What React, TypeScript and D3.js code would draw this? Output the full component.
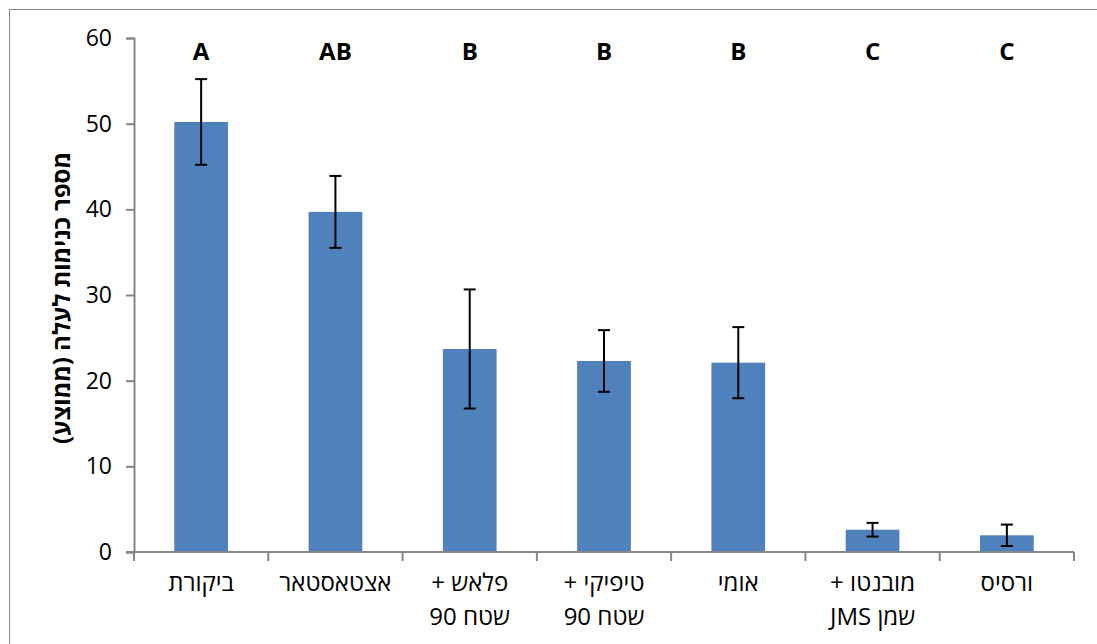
import React, { useEffect, useRef } from 'react';
import * as d3 from 'd3';

// Categories (Hebrew, each entry split into lines)
const categories: string[][] = [
  ['ביקורת'],
  ['אצטאסטאר'],
  ['פלאש +', 'שטח 90'],
  ['טיפיקי +', 'שטח 90'],
  ['אומי'],
  ['מובנטו +', 'שמן JMS'],
  ['ורסיס'],
];
const means = [50.2, 39.7, 23.7, 22.3, 22.1, 2.6, 1.95];
const errors = [5.0, 4.2, 6.95, 3.6, 4.15, 0.8, 1.25];
const groups = ['A', 'AB', 'B', 'B', 'B', 'C', 'C'];
const yTicks = [0, 10, 20, 30, 40, 50, 60];
const yTitle = 'מספר כנימות לעלה (ממוצע)';

const FONT = '"Open Sans", "Liberation Sans", "DejaVu Sans", sans-serif';

const App: React.FC = () => {
  const svgRef = useRef<SVGSVGElement | null>(null);

  useEffect(() => {
    if (!svgRef.current) return;
    const svg = d3.select(svgRef.current);
    svg.selectAll('*').remove();

    const width = 1097;
    const height = 644;
    const left = 134;
    const right = 1074;
    const top = 38;
    const bottom = 552;
    const axisColor = '#868686';

    // frame
    svg
      .append('rect')
      .attr('x', 9.5)
      .attr('y', 9.5)
      .attr('width', width)
      .attr('height', height)
      .attr('fill', 'none')
      .attr('stroke', axisColor)
      .attr('stroke-width', 1);

    const idx = categories.map((_, i) => String(i));
    const x = d3
      .scaleBand()
      .domain(idx)
      .range([left, right])
      .paddingInner(0.6)
      .paddingOuter(0.3);
    const y = d3.scaleLinear().domain([0, 60]).range([bottom, top]);

    // bars
    svg
      .append('g')
      .selectAll('rect')
      .data(means)
      .enter()
      .append('rect')
      .attr('x', (_, i) => x(String(i))!)
      .attr('y', (d) => y(d))
      .attr('width', x.bandwidth())
      .attr('height', (d) => y(0) - y(d))
      .attr('fill', '#4F81BD');

    // error bars
    const eb = svg.append('g').attr('stroke', '#000').attr('stroke-width', 2);
    means.forEach((m, i) => {
      const cx = x(String(i))! + x.bandwidth() / 2;
      const y1 = y(m + errors[i]);
      const y2 = y(m - errors[i]);
      eb.append('line').attr('x1', cx).attr('x2', cx).attr('y1', y1).attr('y2', y2);
      eb.append('line').attr('x1', cx - 6).attr('x2', cx + 6).attr('y1', y1).attr('y2', y1);
      eb.append('line').attr('x1', cx - 6).attr('x2', cx + 6).attr('y1', y2).attr('y2', y2);
    });

    // group letters
    svg
      .append('g')
      .selectAll('text')
      .data(groups)
      .enter()
      .append('text')
      .attr('x', (_, i) => x(String(i))! + x.bandwidth() / 2)
      .attr('y', 60)
      .attr('text-anchor', 'middle')
      .attr('font-family', FONT)
      .attr('font-weight', 'bold')
      .attr('font-size', 24)
      .text((d) => d);

    // y axis
    const yAxis = d3.axisLeft(y).tickValues(yTicks).tickSize(8).tickSizeOuter(8).tickPadding(14);
    const gy = svg.append('g').attr('transform', `translate(${left},0)`).call(yAxis);
    gy.selectAll('path, line').attr('stroke', axisColor).attr('stroke-width', 2);
    gy.selectAll('text')
      .attr('font-family', FONT)
      .attr('font-size', 23)
      .attr('fill', '#000');

    // x axis: ticks at category boundaries
    const gx = svg.append('g');
    gx.append('line')
      .attr('x1', left - 8)
      .attr('x2', right)
      .attr('y1', bottom)
      .attr('y2', bottom)
      .attr('stroke', axisColor)
      .attr('stroke-width', 2);
    const step = x.step();
    const first = x('0')! - (step - x.bandwidth()) / 2;
    d3.range(categories.length + 1).forEach((i) => {
      const ex = first + i * step;
      gx.append('line')
        .attr('x1', ex)
        .attr('x2', ex)
        .attr('y1', bottom)
        .attr('y2', bottom + 9)
        .attr('stroke', axisColor)
        .attr('stroke-width', 2);
    });

    // x labels
    categories.forEach((lines, i) => {
      const cx = x(String(i))! + x.bandwidth() / 2;
      const t = svg
        .append('text')
        .attr('text-anchor', 'middle')
        .attr('direction', 'rtl')
        .attr('font-family', FONT)
        .attr('font-size', 24)
        .attr('fill', '#000');
      lines.forEach((ln, j) => {
        t.append('tspan').attr('x', cx).attr('y', 591 + j * 34).text(ln);
      });
    });

    // y title
    svg
      .append('text')
      .attr('transform', 'translate(70,298) rotate(-90)')
      .attr('text-anchor', 'middle')
      .attr('direction', 'rtl')
      .attr('font-family', FONT)
      .attr('font-weight', 'bold')
      .attr('font-size', 24)
      .text(yTitle);
  }, []);

  return (
    <svg
      ref={svgRef}
      width={1097}
      height={644}
      style={{ position: 'absolute', left: 0, top: 0, background: '#fff' }}
    />
  );
};

export default App;
